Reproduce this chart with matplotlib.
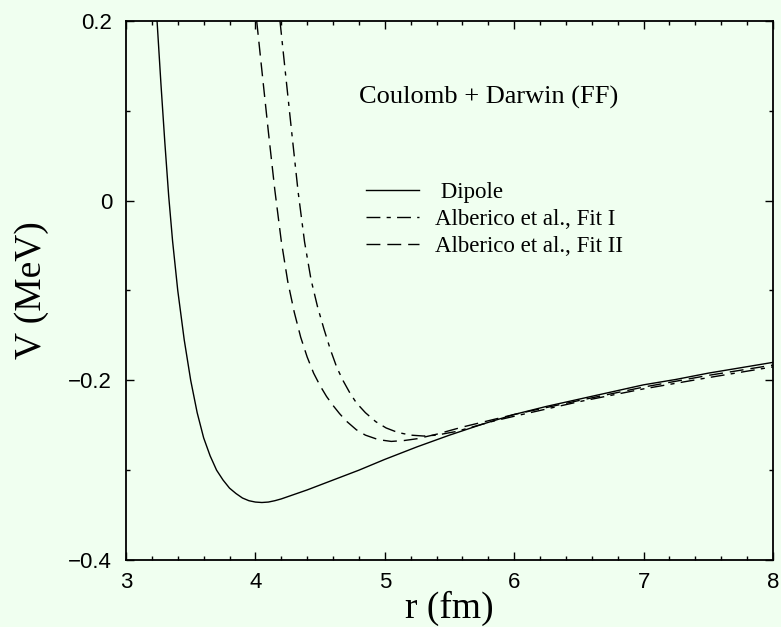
import numpy as np
import matplotlib
matplotlib.use("Agg")
import matplotlib.pyplot as plt
from matplotlib.ticker import MultipleLocator

# Dipole form factor
r_dip = [3.24, 3.27, 3.30, 3.33, 3.36, 3.40, 3.45, 3.50, 3.55, 3.60, 3.65, 3.70,
         3.75, 3.80, 3.85, 3.90, 3.95, 4.00, 4.05, 4.10, 4.15, 4.20, 4.30, 4.40,
         4.50, 4.60, 4.80, 5.00, 5.25, 5.50, 5.75, 6.00, 6.25, 6.50, 6.75, 7.00,
         7.25, 7.50, 7.75, 8.00]
v_dip = [0.200, 0.130, 0.065, 0.005, -0.045, -0.100, -0.155, -0.200, -0.236,
         -0.264, -0.284, -0.300, -0.311, -0.320, -0.326, -0.331, -0.334, -0.3355,
         -0.336, -0.3355, -0.334, -0.332, -0.327, -0.322, -0.3165, -0.311,
         -0.300, -0.288, -0.274, -0.261, -0.249, -0.238, -0.229, -0.221, -0.213,
         -0.205, -0.199, -0.192, -0.186, -0.180]

# Alberico et al., Fit I
r_fit1 = [4.19, 4.23, 4.28, 4.33, 4.38, 4.43, 4.48, 4.53, 4.58, 4.63, 4.68, 4.73,
          4.78, 4.85, 4.93, 5.01, 5.10, 5.20, 5.30, 5.40, 5.55, 5.70, 5.85, 6.00,
          6.50, 7.00, 7.50, 8.00]
v_fit1 = [0.200, 0.145, 0.077, 0.010, -0.046, -0.088, -0.118, -0.143, -0.166,
          -0.186, -0.201, -0.214, -0.225, -0.236, -0.246, -0.253, -0.258, -0.261,
          -0.262, -0.261, -0.257, -0.251, -0.245, -0.240, -0.2238, -0.2095,
          -0.197, -0.185]

# Alberico et al., Fit II
r_fit2 = [4.01, 4.05, 4.10, 4.15, 4.20, 4.25, 4.30, 4.35, 4.40, 4.45, 4.50, 4.55,
          4.60, 4.65, 4.70, 4.78, 4.85, 4.95, 5.05, 5.15, 5.25, 5.40, 5.60, 5.80,
          6.00, 6.50, 7.00, 7.50, 8.00]
v_fit2 = [0.200, 0.145, 0.077, 0.012, -0.045, -0.090, -0.124, -0.152, -0.174,
          -0.192, -0.206, -0.218, -0.228, -0.237, -0.245, -0.255, -0.261, -0.266,
          -0.268, -0.267, -0.265, -0.260, -0.252, -0.245, -0.238, -0.2225,
          -0.2075, -0.1945, -0.183]

labels = ["Dipole", "Alberico et al., Fit I", "Alberico et al., Fit II"]

bg = "#f0fff0"
serif = ["Liberation Serif", "DejaVu Serif"]
sans = ["Liberation Sans", "DejaVu Sans"]

fig = plt.figure(figsize=(7.81, 6.27), dpi=100, facecolor=bg)
ax = fig.add_axes([126 / 781, 1 - 560 / 627, (773 - 126) / 781, (560 - 21) / 627])
ax.set_facecolor(bg)

ax.plot(r_dip, v_dip, color="black", lw=1.0, label=" " + labels[0])
ax.plot(r_fit1, v_fit1, color="black", lw=1.0, dashes=(10, 4.5, 3, 4.5), label=labels[1])
ax.plot(r_fit2, v_fit2, color="black", lw=1.0, dashes=(10, 5), label=labels[2])

ax.set_xlim(3, 8)
ax.set_ylim(-0.4, 0.2)
ax.xaxis.set_major_locator(MultipleLocator(1))
ax.xaxis.set_minor_locator(MultipleLocator(0.2))
ax.yaxis.set_major_locator(MultipleLocator(0.2))
ax.yaxis.set_minor_locator(MultipleLocator(0.1))
ax.yaxis.set_major_formatter(plt.FuncFormatter(lambda v, p: "0" if abs(v) < 1e-9 else f"{v:.1f}".replace("-", "\u2212")))

ax.tick_params(which="both", direction="in", top=True, right=True, width=1.0)
ax.tick_params(which="major", length=6)
ax.tick_params(which="minor", length=3)
ax.tick_params(axis="x", which="major", pad=9)
ax.tick_params(axis="y", which="major", pad=10)
for lab in ax.get_xticklabels() + ax.get_yticklabels():
    lab.set_family(sans)
    lab.set_fontsize(16)
for s in ax.spines.values():
    s.set_linewidth(1.3)

ax.set_xlabel("r (fm)", family=serif, fontsize=27, labelpad=-2)
ax.set_ylabel("V (MeV)", family=serif, fontsize=27, labelpad=14)

ax.text(5.80, 0.115, "Coulomb + Darwin (FF)", family=serif, fontsize=19,
        ha="center", va="center")

leg = ax.legend(loc="upper left", bbox_to_anchor=(0.357, 0.718), frameon=False,
                prop={"family": serif, "size": 16.5}, handlelength=2.3,
                handletextpad=0.7, labelspacing=0.25, borderaxespad=0)

fig.savefig("out.png", dpi=100, facecolor=bg)
